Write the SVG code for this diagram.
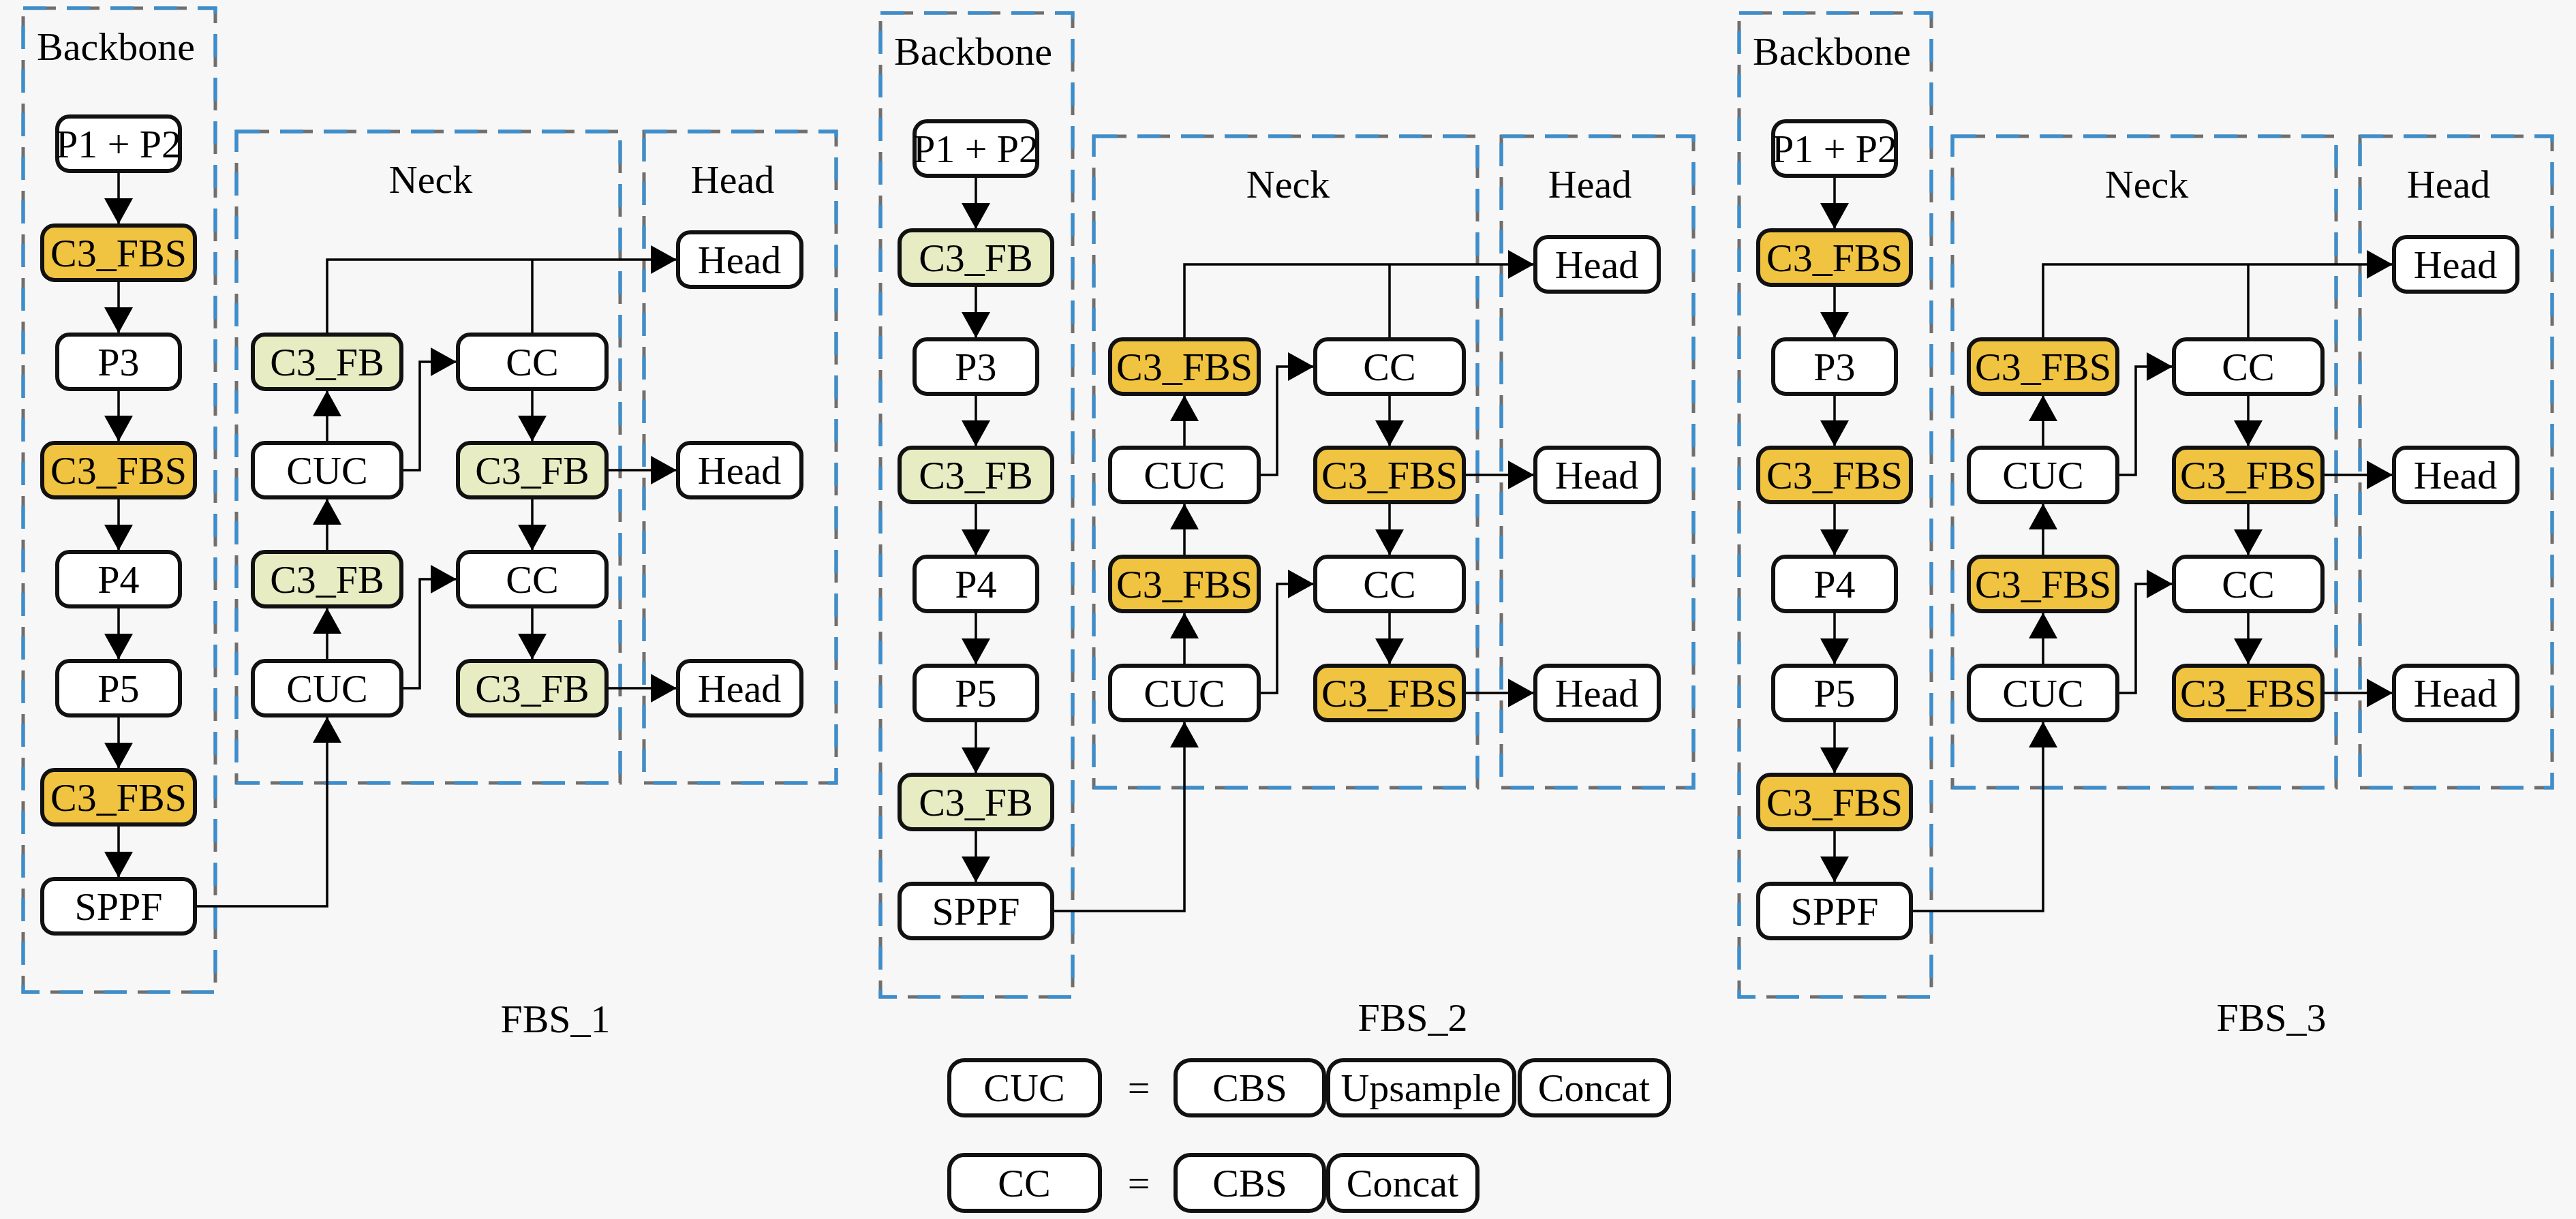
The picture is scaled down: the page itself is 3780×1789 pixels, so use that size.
<svg xmlns="http://www.w3.org/2000/svg" width="3780" height="1789" viewBox="0 0 3780 1789">
<defs>
<style>
.bg{fill:#f7f7f7}
.n{stroke:#111;stroke-width:6;fill:#fff}
.fbs{fill:#f0c340}
.fb{fill:#e7ecc2}
.t{font-family:"Liberation Serif","Times New Roman",serif;font-size:58px;fill:#000;text-anchor:middle}
.dg{fill:none;stroke:#6f6f6f;stroke-width:5;stroke-dasharray:48 16}
.db{fill:none;stroke:#3a8fd0;stroke-width:5;stroke-dasharray:34 30}
.c{fill:none;stroke:#000;stroke-width:3.5}
.a{marker-end:url(#ah)}
</style>
<marker id="ah" markerUnits="userSpaceOnUse" markerWidth="40" markerHeight="42" refX="38" refY="21" orient="auto">
<path d="M0,0 L38,21 L0,42 Z" fill="#000"/>
</marker>
</defs>
<rect class="bg" x="0" y="0" width="3780" height="1789"/>

<!-- ================= Panel 1 ================= -->
<g id="panel1">
<g id="p1-frames">
<rect class="dg" x="34" y="12" width="282" height="1444"/>
<rect class="db" x="34" y="12" width="282" height="1444"/>
<rect class="dg" x="347" y="193" width="563" height="956"/>
<rect class="db" x="347" y="193" width="563" height="956"/>
<rect class="dg" x="945" y="193" width="282" height="956"/>
<rect class="db" x="945" y="193" width="282" height="956"/>
<text class="t" x="170" y="88">Backbone</text>
<text class="t" x="632" y="283">Neck</text>
<text class="t" x="1075" y="283">Head</text>
</g>
<g id="p1-connectors">
<path class="c a" d="M174,251 V329"/>
<path class="c a" d="M174,411 V489"/>
<path class="c a" d="M174,571 V648"/>
<path class="c a" d="M174,730 V808"/>
<path class="c a" d="M174,890 V968"/>
<path class="c a" d="M174,1050 V1128"/>
<path class="c a" d="M174,1210 V1288"/>
<path class="c a" d="M480,491 V381 H993"/>
<path class="c" d="M781,491 V381"/>
<path class="c a" d="M480,650 V573"/>
<path class="c a" d="M589,690 H616 V531 H670"/>
<path class="c a" d="M781,571 V648"/>
<path class="c a" d="M890,690 H993"/>
<path class="c a" d="M781,730 V808"/>
<path class="c a" d="M480,810 V732"/>
<path class="c a" d="M480,970 V892"/>
<path class="c a" d="M589,1010 H616 V850 H670"/>
<path class="c a" d="M781,890 V968"/>
<path class="c a" d="M890,1010 H993"/>
<path class="c a" d="M286,1330 H480 V1052"/>
</g>
<g id="p1-b1"><rect class="n" x="84" y="171" width="180" height="80" rx="18"/><text class="t" x="174" y="231">P1 + P2</text></g>
<g id="p1-b2"><rect class="n fbs" x="62" y="331" width="224" height="80" rx="18"/><text class="t" x="174" y="391">C3_FBS</text></g>
<g id="p1-b3"><rect class="n" x="84" y="491" width="180" height="80" rx="18"/><text class="t" x="174" y="551">P3</text></g>
<g id="p1-b4"><rect class="n fbs" x="62" y="650" width="224" height="80" rx="18"/><text class="t" x="174" y="710">C3_FBS</text></g>
<g id="p1-b5"><rect class="n" x="84" y="810" width="180" height="80" rx="18"/><text class="t" x="174" y="870">P4</text></g>
<g id="p1-b6"><rect class="n" x="84" y="970" width="180" height="80" rx="18"/><text class="t" x="174" y="1030">P5</text></g>
<g id="p1-b7"><rect class="n fbs" x="62" y="1130" width="224" height="80" rx="18"/><text class="t" x="174" y="1190">C3_FBS</text></g>
<g id="p1-b8"><rect class="n" x="62" y="1290" width="224" height="80" rx="18"/><text class="t" x="174" y="1350">SPPF</text></g>
<g id="p1-n1"><rect class="n fb" x="371" y="491" width="218" height="80" rx="18"/><text class="t" x="480" y="551">C3_FB</text></g>
<g id="p1-n2"><rect class="n" x="371" y="650" width="218" height="80" rx="18"/><text class="t" x="480" y="710">CUC</text></g>
<g id="p1-n3"><rect class="n fb" x="371" y="810" width="218" height="80" rx="18"/><text class="t" x="480" y="870">C3_FB</text></g>
<g id="p1-n4"><rect class="n" x="371" y="970" width="218" height="80" rx="18"/><text class="t" x="480" y="1030">CUC</text></g>
<g id="p1-n5"><rect class="n" x="672" y="491" width="218" height="80" rx="18"/><text class="t" x="781" y="551">CC</text></g>
<g id="p1-n6"><rect class="n fb" x="672" y="650" width="218" height="80" rx="18"/><text class="t" x="781" y="710">C3_FB</text></g>
<g id="p1-n7"><rect class="n" x="672" y="810" width="218" height="80" rx="18"/><text class="t" x="781" y="870">CC</text></g>
<g id="p1-n8"><rect class="n fb" x="672" y="970" width="218" height="80" rx="18"/><text class="t" x="781" y="1030">C3_FB</text></g>
<g id="p1-h1"><rect class="n" x="995" y="341" width="181" height="80" rx="18"/><text class="t" x="1085" y="401">Head</text></g>
<g id="p1-h2"><rect class="n" x="995" y="650" width="181" height="80" rx="18"/><text class="t" x="1085" y="710">Head</text></g>
<g id="p1-h3"><rect class="n" x="995" y="970" width="181" height="80" rx="18"/><text class="t" x="1085" y="1030">Head</text></g>
</g>
<text class="t" x="815" y="1515">FBS_1</text>

<!-- ================= Panel 2 ================= -->
<g id="panel2" transform="translate(1258,7)">
<g id="p2-frames">
<rect class="dg" x="34" y="12" width="282" height="1444"/>
<rect class="db" x="34" y="12" width="282" height="1444"/>
<rect class="dg" x="347" y="193" width="563" height="956"/>
<rect class="db" x="347" y="193" width="563" height="956"/>
<rect class="dg" x="945" y="193" width="282" height="956"/>
<rect class="db" x="945" y="193" width="282" height="956"/>
<text class="t" x="170" y="88">Backbone</text>
<text class="t" x="632" y="283">Neck</text>
<text class="t" x="1075" y="283">Head</text>
</g>
<g id="p2-connectors">
<path class="c a" d="M174,251 V329"/>
<path class="c a" d="M174,411 V489"/>
<path class="c a" d="M174,571 V648"/>
<path class="c a" d="M174,730 V808"/>
<path class="c a" d="M174,890 V968"/>
<path class="c a" d="M174,1050 V1128"/>
<path class="c a" d="M174,1210 V1288"/>
<path class="c a" d="M480,491 V381 H993"/>
<path class="c" d="M781,491 V381"/>
<path class="c a" d="M480,650 V573"/>
<path class="c a" d="M589,690 H616 V531 H670"/>
<path class="c a" d="M781,571 V648"/>
<path class="c a" d="M890,690 H993"/>
<path class="c a" d="M781,730 V808"/>
<path class="c a" d="M480,810 V732"/>
<path class="c a" d="M480,970 V892"/>
<path class="c a" d="M589,1010 H616 V850 H670"/>
<path class="c a" d="M781,890 V968"/>
<path class="c a" d="M890,1010 H993"/>
<path class="c a" d="M286,1330 H480 V1052"/>
</g>
<g id="p2-b1"><rect class="n" x="84" y="171" width="180" height="80" rx="18"/><text class="t" x="174" y="231">P1 + P2</text></g>
<g id="p2-b2"><rect class="n fb" x="62" y="331" width="224" height="80" rx="18"/><text class="t" x="174" y="391">C3_FB</text></g>
<g id="p2-b3"><rect class="n" x="84" y="491" width="180" height="80" rx="18"/><text class="t" x="174" y="551">P3</text></g>
<g id="p2-b4"><rect class="n fb" x="62" y="650" width="224" height="80" rx="18"/><text class="t" x="174" y="710">C3_FB</text></g>
<g id="p2-b5"><rect class="n" x="84" y="810" width="180" height="80" rx="18"/><text class="t" x="174" y="870">P4</text></g>
<g id="p2-b6"><rect class="n" x="84" y="970" width="180" height="80" rx="18"/><text class="t" x="174" y="1030">P5</text></g>
<g id="p2-b7"><rect class="n fb" x="62" y="1130" width="224" height="80" rx="18"/><text class="t" x="174" y="1190">C3_FB</text></g>
<g id="p2-b8"><rect class="n" x="62" y="1290" width="224" height="80" rx="18"/><text class="t" x="174" y="1350">SPPF</text></g>
<g id="p2-n1"><rect class="n fbs" x="371" y="491" width="218" height="80" rx="18"/><text class="t" x="480" y="551">C3_FBS</text></g>
<g id="p2-n2"><rect class="n" x="371" y="650" width="218" height="80" rx="18"/><text class="t" x="480" y="710">CUC</text></g>
<g id="p2-n3"><rect class="n fbs" x="371" y="810" width="218" height="80" rx="18"/><text class="t" x="480" y="870">C3_FBS</text></g>
<g id="p2-n4"><rect class="n" x="371" y="970" width="218" height="80" rx="18"/><text class="t" x="480" y="1030">CUC</text></g>
<g id="p2-n5"><rect class="n" x="672" y="491" width="218" height="80" rx="18"/><text class="t" x="781" y="551">CC</text></g>
<g id="p2-n6"><rect class="n fbs" x="672" y="650" width="218" height="80" rx="18"/><text class="t" x="781" y="710">C3_FBS</text></g>
<g id="p2-n7"><rect class="n" x="672" y="810" width="218" height="80" rx="18"/><text class="t" x="781" y="870">CC</text></g>
<g id="p2-n8"><rect class="n fbs" x="672" y="970" width="218" height="80" rx="18"/><text class="t" x="781" y="1030">C3_FBS</text></g>
<g id="p2-h1"><rect class="n" x="995" y="341" width="181" height="80" rx="18"/><text class="t" x="1085" y="401">Head</text></g>
<g id="p2-h2"><rect class="n" x="995" y="650" width="181" height="80" rx="18"/><text class="t" x="1085" y="710">Head</text></g>
<g id="p2-h3"><rect class="n" x="995" y="970" width="181" height="80" rx="18"/><text class="t" x="1085" y="1030">Head</text></g>
</g>
<text class="t" x="2073" y="1513">FBS_2</text>

<!-- ================= Panel 3 ================= -->
<g id="panel3" transform="translate(2518,7)">
<g id="p3-frames">
<rect class="dg" x="34" y="12" width="282" height="1444"/>
<rect class="db" x="34" y="12" width="282" height="1444"/>
<rect class="dg" x="347" y="193" width="563" height="956"/>
<rect class="db" x="347" y="193" width="563" height="956"/>
<rect class="dg" x="945" y="193" width="282" height="956"/>
<rect class="db" x="945" y="193" width="282" height="956"/>
<text class="t" x="170" y="88">Backbone</text>
<text class="t" x="632" y="283">Neck</text>
<text class="t" x="1075" y="283">Head</text>
</g>
<g id="p3-connectors">
<path class="c a" d="M174,251 V329"/>
<path class="c a" d="M174,411 V489"/>
<path class="c a" d="M174,571 V648"/>
<path class="c a" d="M174,730 V808"/>
<path class="c a" d="M174,890 V968"/>
<path class="c a" d="M174,1050 V1128"/>
<path class="c a" d="M174,1210 V1288"/>
<path class="c a" d="M480,491 V381 H993"/>
<path class="c" d="M781,491 V381"/>
<path class="c a" d="M480,650 V573"/>
<path class="c a" d="M589,690 H616 V531 H670"/>
<path class="c a" d="M781,571 V648"/>
<path class="c a" d="M890,690 H993"/>
<path class="c a" d="M781,730 V808"/>
<path class="c a" d="M480,810 V732"/>
<path class="c a" d="M480,970 V892"/>
<path class="c a" d="M589,1010 H616 V850 H670"/>
<path class="c a" d="M781,890 V968"/>
<path class="c a" d="M890,1010 H993"/>
<path class="c a" d="M286,1330 H480 V1052"/>
</g>
<g id="p3-b1"><rect class="n" x="84" y="171" width="180" height="80" rx="18"/><text class="t" x="174" y="231">P1 + P2</text></g>
<g id="p3-b2"><rect class="n fbs" x="62" y="331" width="224" height="80" rx="18"/><text class="t" x="174" y="391">C3_FBS</text></g>
<g id="p3-b3"><rect class="n" x="84" y="491" width="180" height="80" rx="18"/><text class="t" x="174" y="551">P3</text></g>
<g id="p3-b4"><rect class="n fbs" x="62" y="650" width="224" height="80" rx="18"/><text class="t" x="174" y="710">C3_FBS</text></g>
<g id="p3-b5"><rect class="n" x="84" y="810" width="180" height="80" rx="18"/><text class="t" x="174" y="870">P4</text></g>
<g id="p3-b6"><rect class="n" x="84" y="970" width="180" height="80" rx="18"/><text class="t" x="174" y="1030">P5</text></g>
<g id="p3-b7"><rect class="n fbs" x="62" y="1130" width="224" height="80" rx="18"/><text class="t" x="174" y="1190">C3_FBS</text></g>
<g id="p3-b8"><rect class="n" x="62" y="1290" width="224" height="80" rx="18"/><text class="t" x="174" y="1350">SPPF</text></g>
<g id="p3-n1"><rect class="n fbs" x="371" y="491" width="218" height="80" rx="18"/><text class="t" x="480" y="551">C3_FBS</text></g>
<g id="p3-n2"><rect class="n" x="371" y="650" width="218" height="80" rx="18"/><text class="t" x="480" y="710">CUC</text></g>
<g id="p3-n3"><rect class="n fbs" x="371" y="810" width="218" height="80" rx="18"/><text class="t" x="480" y="870">C3_FBS</text></g>
<g id="p3-n4"><rect class="n" x="371" y="970" width="218" height="80" rx="18"/><text class="t" x="480" y="1030">CUC</text></g>
<g id="p3-n5"><rect class="n" x="672" y="491" width="218" height="80" rx="18"/><text class="t" x="781" y="551">CC</text></g>
<g id="p3-n6"><rect class="n fbs" x="672" y="650" width="218" height="80" rx="18"/><text class="t" x="781" y="710">C3_FBS</text></g>
<g id="p3-n7"><rect class="n" x="672" y="810" width="218" height="80" rx="18"/><text class="t" x="781" y="870">CC</text></g>
<g id="p3-n8"><rect class="n fbs" x="672" y="970" width="218" height="80" rx="18"/><text class="t" x="781" y="1030">C3_FBS</text></g>
<g id="p3-h1"><rect class="n" x="995" y="341" width="181" height="80" rx="18"/><text class="t" x="1085" y="401">Head</text></g>
<g id="p3-h2"><rect class="n" x="995" y="650" width="181" height="80" rx="18"/><text class="t" x="1085" y="710">Head</text></g>
<g id="p3-h3"><rect class="n" x="995" y="970" width="181" height="80" rx="18"/><text class="t" x="1085" y="1030">Head</text></g>
</g>
<text class="t" x="3333" y="1513">FBS_3</text>

<!-- ================= Legend ================= -->
<g id="legend-cuc">
<g id="lg-cuc"><rect class="n" x="1393" y="1556" width="221" height="81" rx="22"/><text class="t" x="1503" y="1616">CUC</text></g>
<text class="t" x="1671" y="1616">=</text>
<g id="lg-cbs1"><rect class="n" x="1725" y="1556" width="218" height="81" rx="22"/><text class="t" x="1834" y="1616">CBS</text></g>
<g id="lg-up"><rect class="n" x="1949" y="1556" width="273" height="81" rx="22"/><text class="t" x="2085" y="1616">Upsample</text></g>
<g id="lg-cat1"><rect class="n" x="2230" y="1556" width="219" height="81" rx="22"/><text class="t" x="2339" y="1616">Concat</text></g>
</g>
<g id="legend-cc">
<g id="lg-cc"><rect class="n" x="1393" y="1695" width="221" height="82" rx="22"/><text class="t" x="1503" y="1756">CC</text></g>
<text class="t" x="1671" y="1756">=</text>
<g id="lg-cbs2"><rect class="n" x="1725" y="1695" width="218" height="82" rx="22"/><text class="t" x="1834" y="1756">CBS</text></g>
<g id="lg-cat2"><rect class="n" x="1949" y="1695" width="219" height="82" rx="22"/><text class="t" x="2058" y="1756">Concat</text></g>
</g>
</svg>
